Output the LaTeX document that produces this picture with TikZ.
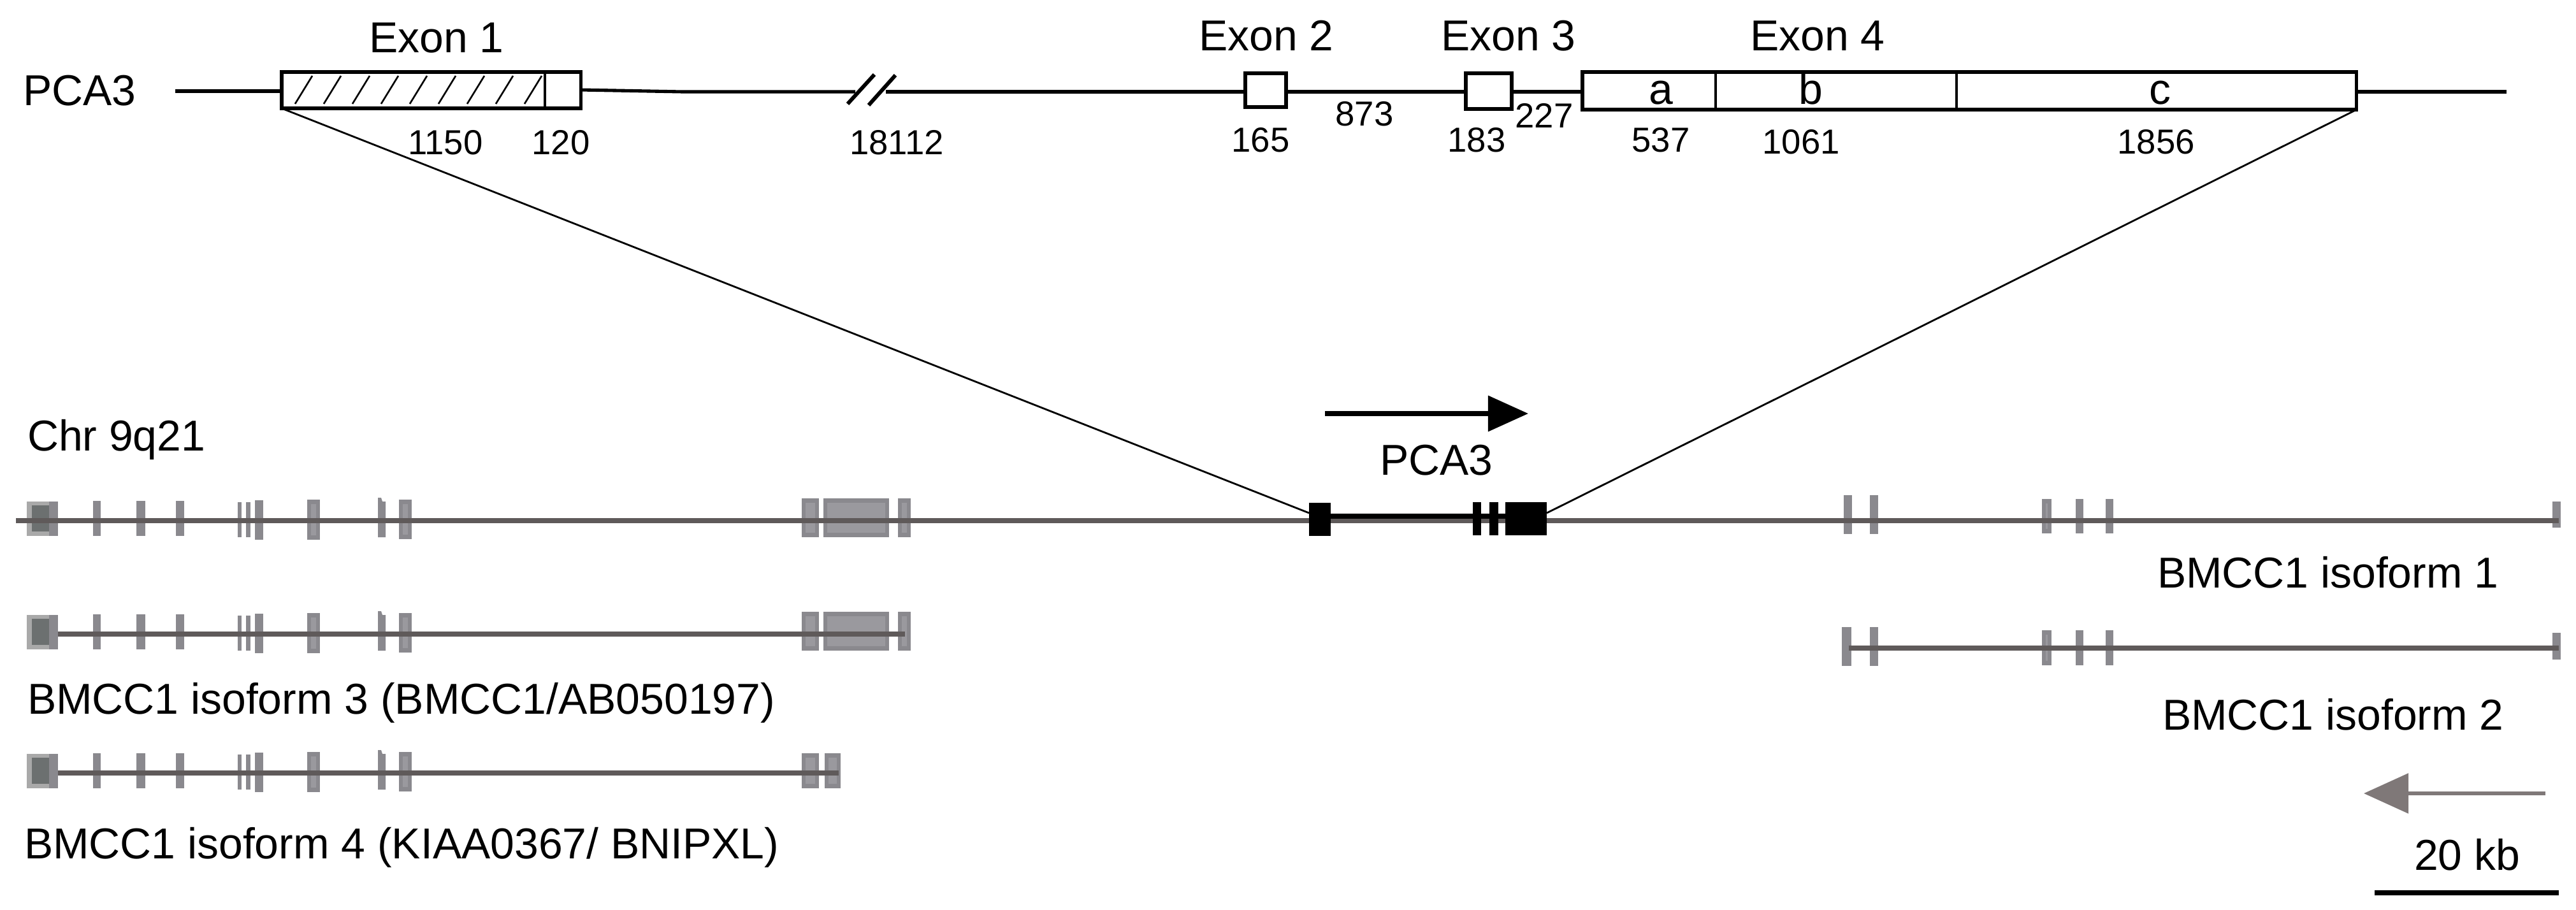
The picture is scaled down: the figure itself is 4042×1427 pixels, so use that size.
\documentclass[tikz,border=0pt]{standalone}
\usepackage{fontspec}
\setmainfont{Liberation Sans}
\usetikzlibrary{arrows.meta}
\definecolor{chrline}{HTML}{5F5A5A}
\definecolor{exg}{HTML}{8A898E}
\definecolor{exlight}{HTML}{A9A9A9}
\definecolor{exdark}{HTML}{6C7070}
\definecolor{exinner}{HTML}{9A999E}
\definecolor{arrowgray}{HTML}{7F7878}
\newcommand\mybar[4]{\fill[exg] (#1,#2) rectangle (#3,#4);}
\newcommand\mybarin[4]{\fill[exg] (#1,#2) rectangle (#3,#4);
  \fill[exinner] ($(#1,#2)+(6,7)$) rectangle ($(#3,#4)+(-6,-7)$);}
\usetikzlibrary{calc}
\begin{document}
\begin{tikzpicture}[x=0.01cm,y=-0.01cm,
  lbl/.style={font=\fontsize{19.3pt}{23pt}\selectfont, inner sep=0pt, outer sep=0pt},
  num/.style={font=\fontsize{15.5pt}{18pt}\selectfont, inner sep=0pt, outer sep=0pt},
  topline/.style={line width=1.45pt},
  exbox/.style={draw=black, line width=1.5pt, fill=white, inner sep=0pt, outer sep=0pt, anchor=north west},
  divider/.style={line width=0.9pt},
  hatch/.style={line width=0.75pt},
  zoomline/.style={line width=0.8pt},
  chr/.style={chrline, line width=2pt},
  pcabox/.style={fill=black, inner sep=0pt, outer sep=0pt, anchor=north west},
]
\useasboundingbox (0,0) rectangle (4042,1427);

% ---------------- top PCA3 gene model ----------------
\node[lbl, anchor=base west] (pcalbl) at (36,165) {PCA3};
\draw[topline] (275,143) -- (442,143);
\draw[topline] (911,141) -- (1071,144) -- (1342,144);
\draw[topline] (1390,144) -- (3933,144);
\draw[line width=1.7pt] (1330,163) -- (1372,117);
\draw[line width=1.7pt] (1363,165) -- (1405,118);

\node[exbox, minimum width=4.69cm, minimum height=0.57cm] (ex1) at (442,113) {};
\foreach \i in {0,...,8} \draw[hatch] ({463+45*\i},163) -- ({490+45*\i},119);
\draw[line width=1.3pt] (855,113) -- (855,170);
\node[exbox, minimum width=0.64cm, minimum height=0.53cm] (ex2) at (1954,115) {};
\node[exbox, minimum width=0.72cm, minimum height=0.56cm] (ex3) at (2300,115) {};
\node[exbox, minimum width=12.14cm, minimum height=0.59cm] (ex4) at (2483,113) {};
\draw[divider] (2692,113) -- (2692,172);
\draw[divider] (3070,113) -- (3070,172);

\node[lbl, anchor=base] (t1) at (685,82) {Exon 1};
\node[lbl, anchor=base] (t2) at (1987,80) {Exon 2};
\node[lbl, anchor=base] (t3) at (2367,80) {Exon 3};
\node[lbl, anchor=base] (t4) at (2852,80) {Exon 4};
\node[lbl, anchor=base] (la) at (2606,163) {a};
\node[lbl, anchor=base] (lb) at (2841,163) {b};
\node[lbl, anchor=base] (lc) at (3389,163) {c};

\node[num, anchor=base] (n1) at (699,242) {1150};
\node[num, anchor=base] (n2) at (880,242) {120};
\node[num, anchor=base] (n3) at (1407,242) {18112};
\node[num, anchor=base] (n4) at (1978,238) {165};
\node[num, anchor=base] (n5) at (2141,197) {873};
\node[num, anchor=base] (n6) at (2317,238) {183};
\node[num, anchor=base] (n7) at (2423,200) {227};
\node[num, anchor=base] (n8) at (2606,238) {537};
\node[num, anchor=base] (n9) at (2826,241) {1061};
\node[num, anchor=base] (n10) at (3383,241) {1856};

% ---------------- chromosome ----------------
\node[lbl, anchor=base west] (chrlbl) at (43,707) {Chr 9q21};
\draw[line width=2pt, -{Triangle[length=0.63cm, width=0.55cm]}] (2079,649) -- (2398,649);
\node[lbl, anchor=base] (pca3mid) at (2254,745) {PCA3};

% row 1 left exons
\newcommand\leftexons{%
  \fill[exlight] (42,787) rectangle (77,841);
  \fill[exdark] (50,793) rectangle (77,834);
  \mybar{77}{787}{91}{841}
  \mybar{146}{786}{158}{841}
  \mybar{214}{786}{228}{841}
  \mybar{276}{786}{289}{841}
  \mybar{373}{788}{379}{843}
  \mybar{386}{788}{393}{843}
  \mybar{400}{785}{413}{847}
  \mybarin{482}{784}{502}{847}
  \fill[exg] (593,843) -- (593,781) -- (598,781) -- (600,787) -- (605,787) -- (605,843) -- cycle;
  \mybarin{626}{784}{646}{846}
}
\leftexons
\mybarin{1258}{782}{1285}{843}
\mybarin{1292}{782}{1395}{843}
\mybarin{1409}{782}{1429}{843}
% right exons row 1
\mybar{2893}{777}{2906}{838}
\mybar{2934}{777}{2947}{838}
\mybarin{3204}{783}{3219}{837}
\mybar{3257}{783}{3269}{837}
\mybar{3304}{783}{3316}{837}
\mybar{4005}{787}{4018}{828}
\draw[chr] (25,817) -- (4015,817);

% PCA3 exons on chromosome
\node[pcabox, minimum width=0.34cm, minimum height=0.52cm] (pe1) at (2054,789) {};
\node[pcabox, minimum width=0.13cm, minimum height=0.52cm] (pe2) at (2311,788) {};
\node[pcabox, minimum width=0.14cm, minimum height=0.52cm] (pe3) at (2337,788) {};
\node[pcabox, minimum width=0.65cm, minimum height=0.52cm] (pe4) at (2362,788) {};
\draw[line width=2pt] (pe1.east |- 0,810) -- (pe4.west |- 0,810);
\coordinate (jl) at (2054,805);
\coordinate (jr) at (2427,805);
\draw[zoomline] (ex1.south west) -- (jl);
\draw[zoomline] (ex4.south east) -- (jr);

% row 2 (isoform 2)
\mybar{2890}{984}{2905}{1045}
\mybar{2934}{984}{2947}{1045}
\mybarin{3204}{989}{3219}{1044}
\mybar{3257}{989}{3269}{1044}
\mybar{3304}{989}{3316}{1044}
\mybar{4005}{993}{4018}{1035}
\draw[chr] (2901,1017) -- (4015,1017);
\node[lbl, anchor=base west] (iso1) at (3385,922) {BMCC1 isoform 1};
\node[lbl, anchor=base west] (iso2) at (3393,1145) {BMCC1 isoform 2};

% row 3 (isoform 3)
\begin{scope}[shift={(0,178)}]
\leftexons
\mybarin{1258}{782}{1285}{843}
\mybarin{1292}{782}{1395}{843}
\mybarin{1409}{782}{1429}{843}
\draw[chr] (91,817) -- (1420,817);
\end{scope}
\node[lbl, anchor=base west] (iso3) at (43,1120) {BMCC1 isoform 3 (BMCC1/AB050197)};

% row 4 (isoform 4)
\begin{scope}[shift={(0,396)}]
\leftexons
\mybarin{1258}{786}{1285}{841}
\mybarin{1294}{786}{1319}{841}
\draw[chr] (91,817) -- (1316,817);
\end{scope}
\node[lbl, anchor=base west] (iso4) at (38,1347) {BMCC1 isoform 4 (KIAA0367/ BNIPXL)};

% orientation arrow and scale bar
\coordinate (gs) at (3994,1245);
\coordinate (ge) at (3709,1245);
\draw[arrowgray, line width=1.7pt, -{Triangle[length=0.7cm, width=0.62cm]}] (gs) -- (ge);
\node[lbl, anchor=base] (kb) at (3871,1365) {20 kb};
\coordinate (sb1) at (3726,1401);
\coordinate (sb2) at (4015,1401);
\draw[line width=2.2pt] (sb1) -- (sb2);
\end{tikzpicture}
\end{document}
